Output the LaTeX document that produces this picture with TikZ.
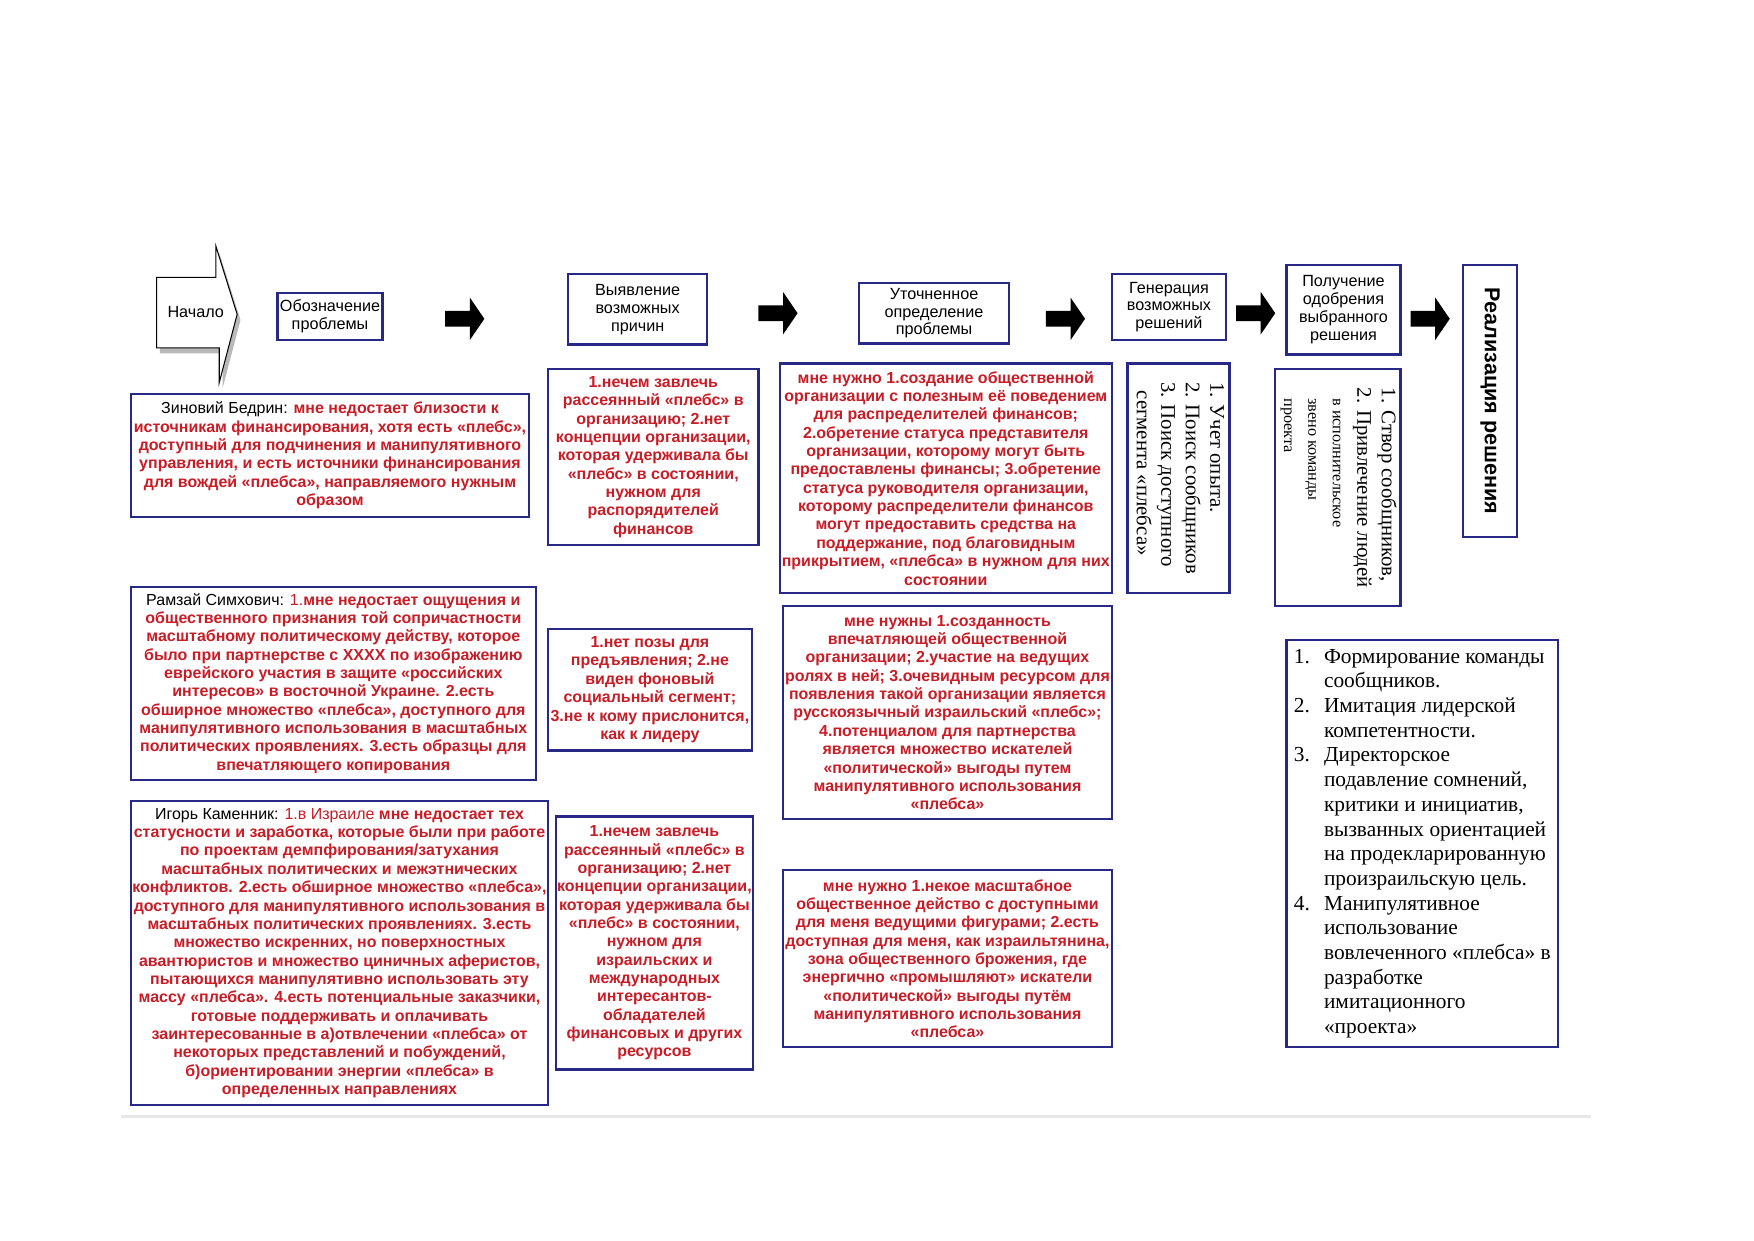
\documentclass[tikz,border=0pt]{standalone}
\usepackage{fontspec}
\setmainfont{Liberation Sans}
\newfontfamily\timesfont{Liberation Serif}
\usepackage{xcolor}
\usetikzlibrary{positioning}

\definecolor{boxblue}{RGB}{40,40,135}
\definecolor{txtred}{RGB}{200,28,38}

% name of the speaker in plain black, light red numbering
\newcommand\who[1]{{\mdseries\color{black}#1}}
\newcommand\lite[1]{{\mdseries #1}}

\begin{document}
\begin{tikzpicture}[
      x=0.5389pt, y=-0.5389pt,
      sz/.style 2 args={minimum width=#1*0.5389pt, minimum height=#2*0.5389pt},
      hbox/.style={draw=boxblue, line width=1.1pt, fill=white, inner sep=0pt,
                   align=center, font=\fontsize{7.8}{8.6}\selectfont},
      rbox/.style={draw=boxblue, line width=1.1pt, fill=white, inner sep=0pt,
                   align=center, text=txtred,
                   font=\fontsize{7.7}{8.84}\selectfont\bfseries},
      vbox/.style={draw=boxblue, line width=1.1pt, fill=white, inner sep=0pt,
                   rotate=-90, font=\timesfont\fontsize{10}{11.8}\selectfont},
      bigarr/.pic={\fill (-17,-7) -- (5,-7) -- (5,-19) -- (18,0) -- (5,19)
                   -- (5,7) -- (-17,7) -- cycle;}
    ]
    \fill[white] (0,0) rectangle (1568,1109);
    \useasboundingbox (0,0) rectangle (1568,1109);

    % start arrow
    \fill[gray!55] (143,253) -- (196,253) -- (196,226) -- (215,286)
      -- (199,347) -- (199,316) -- (143,316) -- cycle;
    \draw[fill=white, line width=0.5pt] (140,248) -- (193,248) -- (193,220)
      -- (212,281) -- (196,342) -- (196,311) -- (140,311) -- cycle;
    \node[font=\fontsize{7.8}{8.6}\selectfont] (start) at (175,279) {Начало};

    % header row
    \node[hbox, sz={94}{42}]  (obozn)  at (295,283)   {Обозначение\\проблемы};
    \node[hbox, sz={124}{63}] (vyyav)  at (570,276.5) {Выявление\\возможных\\причин};
    \node[hbox, sz={134}{54}] (utoch)  at (835,280)   {Уточненное\\определение\\проблемы};
    \node[hbox, sz={102}{59}] (gener)  at (1045,274.5) {Генерация\\возможных\\решений};
    \node[hbox, sz={102}{80}] (poluch) at (1201,277)  {Получение\\одобрения\\выбранного\\решения};
    \node[hbox, rotate=-90, sz={243}{48},
          font=\bfseries\fontsize{10.4}{13}\selectfont] (realiz) at (1332,358.5)
      {Реализация решения};

    \pic at (415,285)  {bigarr};
    \pic at (695,280)  {bigarr};
    \pic at (952,285)  {bigarr};
    \pic at (1122,280) {bigarr};
    \pic at (1278,285) {bigarr};

    % row 1
    \node[rbox, sz={356}{110}] (zin) at (295,407)
      {\who{Зиновий Бедрин:} мне недостает близости к\\
       источникам финансирования, хотя есть «плебс»,\\
       доступный для подчинения и манипулятивного\\
       управления, и есть источники финансирования\\
       для вождей «плебса», направляемого нужным\\
       образом};
    \node[rbox, sz={188}{157}] (prich1) at (584,408.5)
      {1.нечем завлечь\\рассеянный «плебс» в\\организацию; 2.нет\\
       концепции организации,\\которая удерживала бы\\«плебс» в состоянии,\\
       нужном для\\распорядителей\\финансов};
    \node[rbox, sz={297}{205}] (nuzhno1) at (845.5,427.5)
      {мне нужно 1.создание общественной\\
       организации с полезным её поведением\\
       для распределителей финансов;\\
       2.обретение статуса представителя\\
       организации, которому могут быть\\
       предоставлены финансы; 3.обретение\\
       статуса руководителя организации,\\
       которому распределители финансов\\
       могут предоставить средства на\\
       поддержание, под благовидным\\
       прикрытием, «плебса» в нужном для них\\
       состоянии};
    \node[vbox, sz={205}{91}] (opyt) at (1053.5,427.5)
      {\begin{tabular}{@{}l@{}}
         1. Учет опыта.\\
         2. Поиск сообщников\\
         3. Поиск доступного\\
         \hspace*{4pt}сегмента «плебса»
       \end{tabular}};
    \node[vbox, sz={212}{112}] (svor) at (1196,436)
      {\begin{tabular}{@{}l@{}}
         1. Створ сообщников,\\
         2. Привлечение людей\\
         \hspace*{5pt}{\fontsize{7.8}{11.8}\selectfont в исполнительское}\\
         \hspace*{5pt}{\fontsize{7.8}{11.8}\selectfont звено команды}\\
         \hspace*{5pt}{\fontsize{7.8}{11.8}\selectfont проекта}
       \end{tabular}};

    % row 2
    \node[rbox, sz={362}{172}] (ram) at (298,611)
      {\who{Рамзай Симхович:} \lite{1.}мне недостает ощущения и\\
       общественного признания той сопричастности\\
       масштабному политическому действу, которое\\
       было при партнерстве с ХХХХ по изображению\\
       еврейского участия в защите «российских\\
       интересов» в восточной Украине. 2.есть\\
       обширное множество «плебса», доступного для\\
       манипулятивного использования в масштабных\\
       политических проявлениях. 3.есть образцы для\\
       впечатляющего копирования};
    \node[rbox, sz={182}{109}] (prich2) at (581,616.5)
      {1.нет позы для\\предъявления; 2.не\\виден фоновый\\
       социальный сегмент;\\3.не к кому прислонится,\\как к лидеру};
    \node[rbox, sz={294}{190}] (nuzhno2) at (847,637)
      {мне нужны 1.созданность\\
       впечатляющей общественной\\
       организации; 2.участие на ведущих\\
       ролях в ней; 3.очевидным ресурсом для\\
       появления такой организации является\\
       русскоязычный израильский «плебс»;\\
       4.потенциалом для партнерства\\
       является множество искателей\\
       «политической» выгоды путем\\
       манипулятивного использования\\
       «плебса»};
    \node[draw=boxblue, line width=1.1pt, fill=white, inner sep=0pt,
          sz={243}{364}, font=\timesfont\fontsize{10.3}{11.9}\selectfont]
      (plan) at (1271.5,754)
      {\begin{tabular}{@{}p{14.5pt}@{}l@{}}
         1. & Формирование команды\\
            & сообщников.\\
         2. & Имитация лидерской\\
            & компетентности.\\
         3. & Директорское\\
            & подавление сомнений,\\
            & критики и инициатив,\\
            & вызванных ориентацией\\
            & на продекларированную\\
            & произраильскую цель.\\
         4. & Манипулятивное\\
            & использование\\
            & вовлеченного «плебса» в\\
            & разработке\\
            & имитационного\\
            & «проекта»
       \end{tabular}};

    % row 3
    \node[rbox, sz={373}{272}] (igor) at (303.5,852)
      {\who{Игорь Каменник:} \lite{1.в Израиле} мне недостает тех\\
       статусности и заработка, которые были при работе\\
       по проектам демпфирования/затухания\\
       масштабных политических и межэтнических\\
       конфликтов. 2.есть обширное множество «плебса»,\\
       доступного для манипулятивного использования в\\
       масштабных политических проявлениях. 3.есть\\
       множество искренних, но поверхностных\\
       авантюристов и множество циничных аферистов,\\
       пытающихся манипулятивно использовать эту\\
       массу «плебса». 4.есть потенциальные заказчики,\\
       готовые поддерживать и оплачивать\\
       заинтересованные в а)отвлечении «плебса» от\\
       некоторых представлений и побуждений,\\
       б)ориентировании энергии «плебса» в\\
       определенных направлениях};
    \node[rbox, sz={176}{226}] (prich3) at (585,843)
      {1.нечем завлечь\\рассеянный «плебс» в\\организацию; 2.нет\\
       концепции организации,\\которая удерживала бы\\«плебс» в состоянии,\\
       нужном для\\израильских и\\международных\\интересантов-\\
       обладателей\\финансовых и других\\ресурсов};
    \node[rbox, sz={294}{158}] (nuzhno3) at (847,857)
      {мне нужно 1.некое масштабное\\
       общественное действо с доступными\\
       для меня ведущими фигурами; 2.есть\\
       доступная для меня, как израильтянина,\\
       зона общественного брожения, где\\
       энергично «промышляют» искатели\\
       «политической» выгоды путём\\
       манипулятивного использования\\
       «плебса»};

    \draw[gray!18, line width=1.2pt] (108,998) -- (1422,998);
  \end{tikzpicture}
\end{document}
